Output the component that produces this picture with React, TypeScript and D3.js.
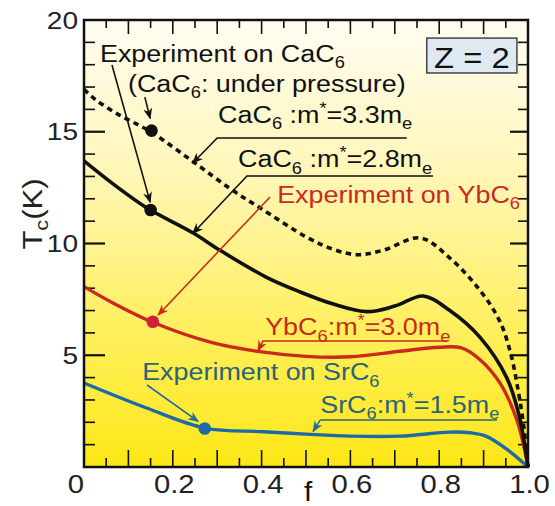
import React from "react";
import * as d3 from "d3";

const W = 555,
  H = 506;
const margin = { left: 84, top: 20, right: 27, bottom: 39 };

// theory curves: [f, Tc (K)]
const caC6m33 = [
  [0, 16.9], [0.025, 16.45], [0.075, 15.8], [0.15, 15.0], [0.25, 13.6], [0.333, 12.4],
  [0.396, 11.6], [0.5, 10.3], [0.56, 9.75], [0.615, 9.5], [0.674, 9.7], [0.757, 10.25],
  [0.824, 9.35], [0.892, 7.9], [0.937, 6.5], [0.962, 5.0], [0.978, 3.4], [0.99, 1.9], [1.0, 0],
];
const caC6m28 = [
  [0, 13.7], [0.07, 12.6], [0.141, 11.6], [0.246, 10.47], [0.306, 9.7], [0.41, 8.5],
  [0.486, 7.84], [0.56, 7.3], [0.637, 6.95], [0.7, 7.2], [0.764, 7.65], [0.824, 7.0],
  [0.892, 5.8], [0.952, 4.0], [0.98, 2.3], [1.0, 0],
];
const ybC6m30 = [
  [0, 8.07], [0.066, 7.33], [0.152, 6.5], [0.291, 5.55], [0.396, 5.16], [0.5, 4.95],
  [0.6, 4.93], [0.712, 5.18], [0.8, 5.36], [0.85, 5.33], [0.892, 4.8], [0.937, 3.75],
  [0.975, 2.1], [1.0, 0],
];
const srC6m15 = [
  [0, 3.76], [0.141, 2.64], [0.272, 1.74], [0.404, 1.58], [0.5, 1.47], [0.6, 1.38],
  [0.712, 1.38], [0.824, 1.56], [0.87, 1.53], [0.905, 1.38], [0.952, 0.8], [1.0, 0],
];

// experimental points
const experiments = [
  { f: 0.15, tc: 11.5, color: "#111" },
  { f: 0.152, tc: 15.05, color: "#111" },
  { f: 0.155, tc: 6.5, color: "#d0203a" },
  { f: 0.272, tc: 1.72, color: "#1d6aa8" },
];

const xLabels = [0, 0.2, 0.4, 0.6, 0.8, 1.0];
const yLabels = [5, 10, 15, 20];

const RED = "#c92a1e";
const BLUE = "#1d6aa8";
const TEAL = "#2b6378";

// text labels: [text, kind]
const labels = [
  { f: 0.036, tc: 18.12, color: "#111", segs: [["Experiment on CaC", ""], ["6", "sub"]] },
  { f: 0.099, tc: 16.78, color: "#111", segs: [["(CaC", ""], ["6", "sub"], [": under pressure)", ""]] },
  { f: 0.302, tc: 15.39, color: "#111", segs: [["CaC", ""], ["6", "sub"], [" :m", ""], ["*", "sup"], ["=3.3m", ""], ["e", "sub"]] },
  { f: 0.347, tc: 13.42, color: "#111", segs: [["CaC", ""], ["6", "sub"], [" :m", ""], ["*", "sup"], ["=2.8m", ""], ["e", "sub"]] },
  { f: 0.435, tc: 11.81, color: RED, segs: [["Experiment on YbC", ""], ["6", "sub"]] },
  { f: 0.408, tc: 5.9, color: RED, segs: [["YbC", ""], ["6", "sub"], [":m", ""], ["*", "sup"], ["=3.0m", ""], ["e", "sub"]] },
  { f: 0.131, tc: 3.89, color: TEAL, segs: [["Experiment on SrC", ""], ["6", "sub"]] },
  { f: 0.532, tc: 2.42, color: TEAL, segs: [["SrC", ""], ["6", "sub"], [":m", ""], ["*", "sup"], ["=1.5m", ""], ["e", "sub"]] },
];

// leader lines, last point gets the arrow
const leaders = [
  { color: "#111", arrow: true, pts: [[0.063, 17.99], [0.149, 11.85]] },
  { color: "#111", arrow: true, pts: [[0.137, 16.55], [0.149, 15.6]] },
  { color: "#111", arrow: true, pts: [[0.727, 14.72], [0.3, 14.72], [0.245, 13.6]] },
  { color: "#111", arrow: true, pts: [[0.786, 13.02], [0.367, 13.02], [0.245, 10.45]] },
  { color: RED, arrow: true, pts: [[0.419, 12.08], [0.167, 6.8]] },
  { color: RED, arrow: true, pts: [[0.818, 5.64], [0.403, 5.64], [0.392, 5.2]] },
  { color: BLUE, arrow: true, pts: [[0.142, 3.67], [0.257, 2.04]] },
  { color: TEAL, arrow: false, pts: [[0.93, 2.1], [0.532, 2.1]] },
  { color: BLUE, arrow: true, pts: [[0.532, 2.1], [0.516, 1.6]] },
];

const SX = 1.17; // the figure's font is wider than Arial

function Rich({ segs, size }) {
  let level = 0;
  return (
    <>
      {segs.map(([t, kind], i) => {
        const target = kind === "sub" ? 0.28 : kind === "sup" ? -0.38 : 0;
        const dy = (target - level) * size;
        level = target;
        const fs = kind ? size * 0.68 : size;
        return (
          <tspan key={i} dy={dy} fontSize={fs}>
            {t}
          </tspan>
        );
      })}
    </>
  );
}

export default function App() {
  const x = d3.scaleLinear().domain([0, 1]).range([margin.left, W - margin.right]);
  const y = d3.scaleLinear().domain([0, 20]).range([H - margin.bottom, margin.top]);
  const line = d3
    .line()
    .x((d) => x(d[0]))
    .y((d) => y(d[1]))
    .curve(d3.curveCatmullRom.alpha(0.5));
  const leaderPath = d3
    .line()
    .x((d) => x(d[0]))
    .y((d) => y(d[1]));

  const x0 = x(0), x1 = x(1), y0 = y(0), y1 = y(20);
  const xMinor = d3.range(0.05, 1, 0.1);
  const xMajor = d3.range(0.1, 0.95, 0.1);
  const yAll = d3.range(1, 20, 1);
  const colors = ["#111", RED, BLUE];
  const font = "'Liberation Sans', Arial, Helvetica, sans-serif";

  return (
    <svg width={W} height={H} style={{ position: "absolute", left: 0, top: 0 }} fontFamily={font}>
      <defs>
        <linearGradient id="bg" x1="0" y1="0" x2="0" y2="1">
          <stop offset="0" stopColor="#fffdf3" />
          <stop offset="0.35" stopColor="#fff6b6" />
          <stop offset="0.7" stopColor="#ffef5c" />
          <stop offset="1" stopColor="#fde716" />
        </linearGradient>
        {colors.map((c, i) => (
          <marker
            key={i}
            id={"ah" + i}
            viewBox="0 0 10 10"
            refX="9"
            refY="5"
            markerWidth="7"
            markerHeight="7"
            orient="auto"
          >
            <path d="M0,1 L10,5 L0,9 L3,5 z" fill={c} />
          </marker>
        ))}
      </defs>

      <rect x={x0} y={y1} width={x1 - x0} height={y0 - y1} fill="url(#bg)" />

      {/* ticks */}
      <g stroke="#111" strokeWidth={1.6}>
        {xMinor.map((v) => (
          <g key={"xm" + v}>
            <line x1={x(v)} x2={x(v)} y1={y0} y2={y0 - 9} />
            <line x1={x(v)} x2={x(v)} y1={y1} y2={y1 + 8} />
          </g>
        ))}
        {xMajor.map((v) => (
          <g key={"xM" + v}>
            <line x1={x(v)} x2={x(v)} y1={y0} y2={y0 - 17} />
            <line x1={x(v)} x2={x(v)} y1={y1} y2={y1 + 14} />
          </g>
        ))}
        {yAll.map((v) => {
          const major = v % 5 === 0;
          return (
            <g key={"y" + v}>
              <line x1={x0} x2={x0 + (major ? 21 : 11)} y1={y(v)} y2={y(v)} strokeWidth={major ? 2.2 : 1.6} />
              <line x1={x1} x2={x1 - (major ? 18 : 10)} y1={y(v)} y2={y(v)} strokeWidth={major ? 2.2 : 1.6} />
            </g>
          );
        })}
      </g>

      {/* theory curves */}
      <path d={line(srC6m15)} fill="none" stroke={BLUE} strokeWidth={3.4} />
      <path d={line(ybC6m30)} fill="none" stroke={RED} strokeWidth={3.4} />
      <path d={line(caC6m28)} fill="none" stroke="#111" strokeWidth={3.6} />
      <path d={line(caC6m33)} fill="none" stroke="#111" strokeWidth={3.6} strokeDasharray="5.5,4.5" />

      {/* leaders */}
      {leaders.map((l, i) => (
        <path
          key={"l" + i}
          d={leaderPath(l.pts)}
          fill="none"
          stroke={l.color}
          strokeWidth={1.6}
          markerEnd={l.arrow ? `url(#ah${colors.indexOf(l.color === TEAL ? BLUE : l.color)})` : undefined}
        />
      ))}

      {experiments.map((e, i) => (
        <circle key={"e" + i} cx={x(e.f)} cy={y(e.tc)} r={6.3} fill={e.color} />
      ))}

      {/* labels */}
      {labels.map((l, i) => (
        <g key={"t" + i} transform={`translate(${x(l.f)},${y(l.tc)}) scale(${SX},1)`}>
          <text fill={l.color} fontSize={23} style={{ whiteSpace: "pre" }}>
            <Rich segs={l.segs} size={23} />
          </text>
        </g>
      ))}

      {/* Z box */}
      <rect x={x(0.772)} y={y(19.19)} width={x(0.975) - x(0.772)} height={y(17.63) - y(19.19)} fill="#dfe9f2" stroke="#444" strokeWidth={1.5} />
      <g transform={`translate(${(x(0.772) + x(0.975)) / 2},${y(17.83)}) scale(1.13,1)`}>
        <text textAnchor="middle" fontSize={29} fill="#111" style={{ whiteSpace: "pre" }}>
          Z = 2
        </text>
      </g>

      {/* frame */}
      <rect x={x0} y={y1} width={x1 - x0} height={y0 - y1} fill="none" stroke="#111" strokeWidth={2.5} />

      {/* axis labels */}
      {xLabels.map((v) => (
        <g key={"xl" + v} transform={`translate(${x(v) + (v === 0 ? -8 : 1.5)},${493}) scale(${SX},1)`}>
          <text textAnchor="middle" fontSize={25} fill="#222">
            {v === 0 ? "0" : v.toFixed(1)}
          </text>
        </g>
      ))}
      {yLabels.map((v) => (
        <g key={"yl" + v} transform={`translate(${x0 - 6},${y(v)}) scale(${SX},1)`}>
          <text textAnchor="end" dy="0.36em" fontSize={24} fill="#222">
            {v}
          </text>
        </g>
      ))}
      <g transform={`translate(308,501) scale(1.1,1)`}>
        <text textAnchor="middle" fontSize={27} fill="#111">
          f
        </text>
      </g>
      <g transform={`translate(42,214) rotate(-90) scale(1.15,1)`}>
        <text textAnchor="middle" fontSize={27} fill="#222">
          <tspan>T</tspan>
          <tspan fontSize={19} dy={6}>c</tspan>
          <tspan dy={-6}>(K)</tspan>
        </text>
      </g>
    </svg>
  );
}
